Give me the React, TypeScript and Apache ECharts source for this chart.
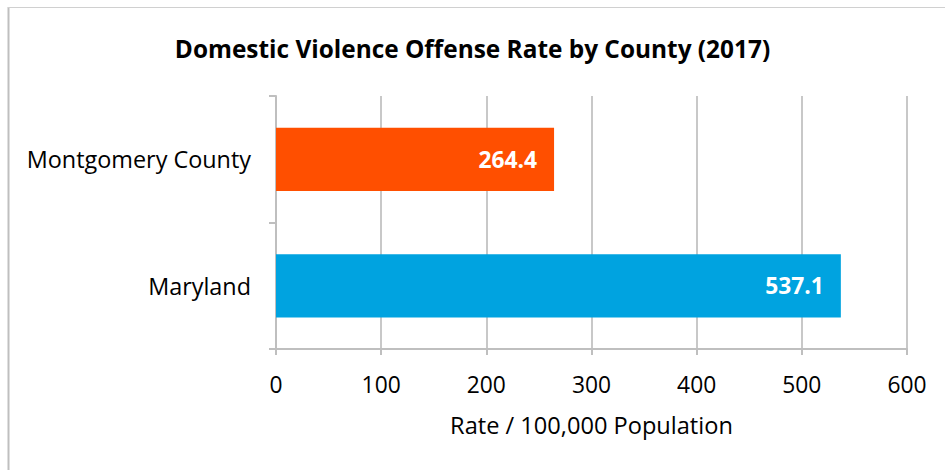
import React, { useEffect, useRef } from "react";
import * as echarts from "echarts";

const categories = ["Maryland", "Montgomery County"];
const values = [537.1, 264.4];
const barColors = ["#00A3E0", "#FF4F00"];
const xTicks = [0, 100, 200, 300, 400, 500, 600];

const FONT = "Open Sans";

export default function App() {
  const ref = useRef<HTMLDivElement>(null);
  useEffect(() => {
    const chart = echarts.init(ref.current!, undefined, { renderer: "svg" });
    chart.setOption({
      animation: false,
      backgroundColor: "#ffffff",
      title: {
        text: "Domestic Violence Offense Rate by County (2017)",
        left: "center",
        top: 31,
        textStyle: { fontFamily: FONT, fontWeight: "bold", fontSize: 24.4, color: "#000" },
      },
      grid: { left: 276, right: 38, top: 96, bottom: 121, containLabel: false },
      xAxis: {
        type: "value",
        min: xTicks[0],
        max: xTicks[xTicks.length - 1],
        interval: 100,
        name: "Rate / 100,000 Population",
        nameLocation: "middle",
        nameGap: 64,
        nameTextStyle: { fontFamily: FONT, fontSize: 23.6, color: "#000" },
        axisLine: { show: true, lineStyle: { color: "#BFBFBF", width: 2 } },
        axisTick: { show: true, length: 6, lineStyle: { color: "#BFBFBF", width: 2 } },
        axisLabel: { fontFamily: FONT, fontSize: 22.8, color: "#000", margin: 24 },
        splitLine: { show: true, lineStyle: { color: "#C8C8C8", width: 2 } },
      },
      yAxis: {
        type: "category",
        data: categories,
        axisLine: { show: true, lineStyle: { color: "#BFBFBF", width: 2 } },
        axisTick: { show: true, length: 7, lineStyle: { color: "#BFBFBF", width: 2 } },
        axisLabel: { fontFamily: FONT, fontSize: 23.4, color: "#000", margin: 25 },
      },
      series: [
        {
          type: "bar",
          barWidth: "50%",
          data: values.map((v, i) => ({ value: v, itemStyle: { color: barColors[i] } })),
          label: {
            show: true,
            position: "insideRight",
            distance: 17,
            formatter: (p: any) => p.value.toFixed(1),
            fontFamily: FONT,
            fontWeight: "bold",
            fontSize: 22.8,
            color: "#fff",
          },
        },
      ],
      graphic: [
        { type: "line", shape: { x1: 8.5, y1: 7, x2: 8.5, y2: 470 }, style: { stroke: "#BFBFBF", lineWidth: 2 } },
        { type: "line", shape: { x1: 8, y1: 7.5, x2: 945, y2: 7.5 }, style: { stroke: "#D0D0D0", lineWidth: 1 } },
      ],
    });
    return () => chart.dispose();
  }, []);
  return (
    <div
      ref={ref}
      style={{ position: "fixed", left: 0, top: 0, width: 945, height: 470 }}
    />
  );
}
